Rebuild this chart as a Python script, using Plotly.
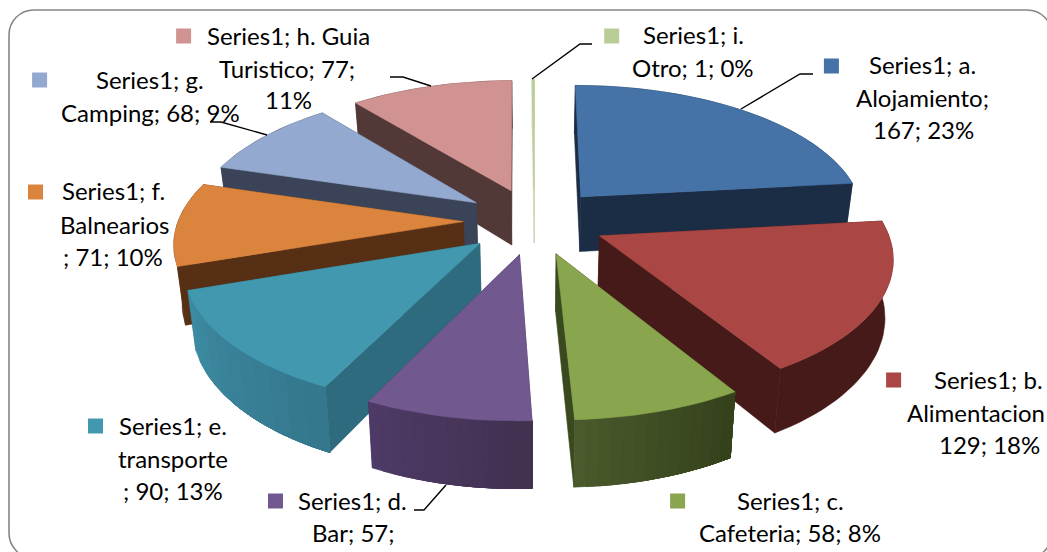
import math
import plotly.graph_objects as go

# ---- data ----
categories = ["a. Alojamiento", "b. Alimentacion", "c. Cafeteria", "d. Bar", "e. transporte",
              "f. Balnearios", "g. Camping", "h. Guia Turistico", "i. Otro"]
values = [167, 129, 58, 57, 90, 71, 68, 77, 1]
label_lines = [
    ["Series1; a.", "Alojamiento;", "167; 23%"],
    ["Series1; b.", "Alimentacion", "129; 18%"],
    ["Series1; c.", "Cafeteria; 58; 8%"],
    ["Series1; d.", "Bar; 57;"],
    ["Series1; e.", "transporte", "; 90; 13%"],
    ["Series1; f.", "Balnearios", "; 71; 10%"],
    ["Series1; g.", "Camping; 68; 9%"],
    ["Series1; h. Guia", "Turistico; 77;", "11%"],
    ["Series1; i.", "Otro; 1; 0%"],
]

# ---- styles ----
top_colors = ["#4572A7", "#AA4643", "#89A54E", "#71588F", "#4198AF", "#DB843D", "#93A9CF", "#D19392", "#B9CD96"]
side_colors = ["#1B2D45", "#451A18", "#3A4A1F", "#43325A", "#2F6B7E", "#562F14", "#3A4357", "#533838", "#C8D6B0"]
wall_from = ["#1B2D45", "#451A18", "#4A5A2C", "#4D3A66", "#3C8BA2", "#562F14", "#3A4357", "#533838", "#C8D6B0"]
wall_to = ["#1B2D45", "#451A18", "#333F1A", "#41304F", "#34758B", "#562F14", "#3A4357", "#533838", "#C8D6B0"]
draw_order = [8, 7, 0, 6, 5, 1, 4, 2, 3]

# projection of the exploded 3-D pie
CX, CY, RX, RY, PERSP, DEPTH, EXPLODE, BOTTOM_X = 534.5, 221, 285, 133, 0.138, 56, 0.25, 0.977

# label layout (one row per text line: centre x, centre y)
label_pos = [
    [(922, 64), (922, 97), (923, 129)],
    [(988, 379), (976, 412), (989, 444)],
    [(790, 500), (790, 532)],
    [(352, 500), (353, 532)],
    [(173, 425), (173, 458), (173, 490)],
    [(113, 190), (114, 224), (113, 256)],
    [(150, 79), (150, 112)],
    [(288, 35), (287, 68), (288, 99)],
    [(693, 34), (693, 67)],
]
key_x = [831.4, 893.6, 677.6, 275.5, 95.5, 35.5, 39.6, 183.6, 611.7]
key_y = [66, 380, 501, 501, 426, 192, 80, 36, 36]
leaders = [
    "M592,44 L580,44 L532,79",
    "M813,74 L800,74 L741,109",
    "M390,77 L403,77 L431,86",
    "M210,122 L221,122 L267,135",
    "M414,510 L424,510 L446,485",
]


def project(x, y, bottom=False):
    den = 1 + PERSP * y
    sx = RX * x / den
    sy = CY - RY * y / den
    if bottom:
        sx *= BOTTOM_X
        sy += DEPTH / den
    return CX + sx, sy


def mix(c1, c2, t):
    a = [int(c1[i:i + 2], 16) for i in (1, 3, 5)]
    b = [int(c2[i:i + 2], 16) for i in (1, 3, 5)]
    return "#%02x%02x%02x" % tuple(round(p + (q - p) * t) for p, q in zip(a, b))


def poly(pts, color):
    return go.Scatter(x=[p[0] for p in pts] + [pts[0][0]], y=[p[1] for p in pts] + [pts[0][1]],
                      mode="lines", fill="toself", fillcolor=color,
                      line=dict(color=color, width=0.6), hoverinfo="skip", showlegend=False)


fig = go.Figure()
total = sum(values)
starts = [sum(values[:i]) / total * 2 * math.pi for i in range(len(values))]

for i in draw_order:
    a0 = starts[i]
    a1 = a0 + values[i] / total * 2 * math.pi
    mid = (a0 + a1) / 2
    ox, oy = EXPLODE * math.sin(mid), EXPLODE * math.cos(mid)
    n = max(3, int(math.degrees(a1 - a0) / 2))
    rim = [(ox + math.sin(a0 + (a1 - a0) * j / n), oy + math.cos(a0 + (a1 - a0) * j / n)) for j in range(n + 1)]
    apex_t, apex_b = project(ox, oy), project(ox, oy, True)
    top = [project(*p) for p in rim]
    bot = [project(*p, True) for p in rim]
    fig.add_trace(poly([apex_t, top[0], bot[0], apex_b], side_colors[i]))
    fig.add_trace(poly([apex_t, top[-1], bot[-1], apex_b], side_colors[i]))
    if wall_from[i] == wall_to[i]:
        fig.add_trace(poly(top + bot[::-1], wall_from[i]))
    else:
        # each band repaints everything still ahead of it, so no seams appear
        bands = 10
        step = max(1, n // bands)
        for j in range(0, n, step):
            # bands are ordered left to right on screen
            k = j if top[0][0] < top[-1][0] else n - j
            if top[0][0] < top[-1][0]:
                pts = top[k:] + bot[k:][::-1]
            else:
                pts = top[:k + 1] + bot[:k + 1][::-1]
            fig.add_trace(poly(pts, mix(wall_from[i], wall_to[i], j / n)))
    fig.add_trace(poly([apex_t] + top, top_colors[i]))

fig.add_trace(go.Scatter(x=key_x, y=key_y, mode="markers", hoverinfo="skip", showlegend=False,
                         marker=dict(symbol="square", size=15, color=top_colors, line=dict(width=0))))

annotations = []
for lines, pos in zip(label_lines, label_pos):
    for text, (x, y) in zip(lines, pos):
        annotations.append(dict(x=x, y=y, xref="x", yref="y", text=text, showarrow=False,
                                xanchor="center", yanchor="middle",
                                font=dict(family="Lato, Carlito, sans-serif", size=24, color="#000000")))

shapes = [dict(type="path", layer="below", line=dict(color="#868686", width=1.6), fillcolor="rgba(0,0,0,0)",
               path="M9,35 C9,21 20,10 34,10 L1027,10 C1041,10 1052,21 1052,35 L1052,533 "
                    "C1052,547 1041,558 1027,558 L34,558 C20,558 9,547 9,533 Z")]
for p in leaders:
    shapes.append(dict(type="path", path=p, layer="above", line=dict(color="#000000", width=1.4)))

fig.update_layout(
    width=1047, height=552, margin=dict(l=0, r=0, t=0, b=0),
    paper_bgcolor="#FFFFFF", plot_bgcolor="#FFFFFF",
    xaxis=dict(range=[0, 1047], visible=False, fixedrange=True),
    yaxis=dict(range=[552, 0], visible=False, fixedrange=True),
    annotations=annotations, shapes=shapes, showlegend=False,
)
fig.write_html("out.html", config={"displayModeBar": False},
               post_script="document.body.style.margin='0';document.body.style.overflow='hidden';")
